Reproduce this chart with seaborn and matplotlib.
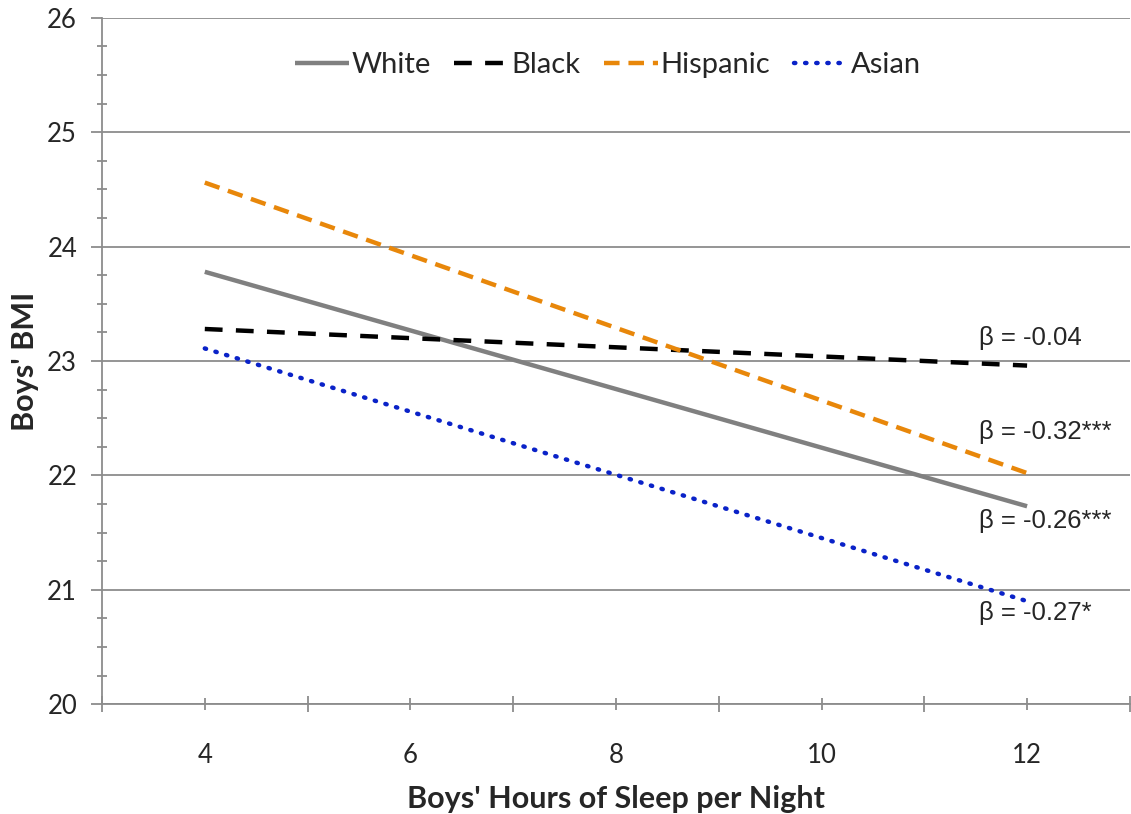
import matplotlib
matplotlib.use("Agg")
import matplotlib.pyplot as plt
import seaborn as sns
import pandas as pd
from matplotlib.ticker import MultipleLocator, FixedLocator

hours = [4, 12]
white = [23.78, 21.73]
black = [23.28, 22.96]
hispanic = [24.56, 22.02]
asian = [23.11, 20.90]
groups = ["White", "Black", "Hispanic", "Asian"]
betas = ["β = -0.04", "β = -0.32***", "β = -0.26***", "β = -0.27*"]
beta_pos_y = [23.2, 22.38, 21.6, 20.8]
beta_x = 11.53

colors = {"White": "#808080", "Black": "#000000", "Hispanic": "#E8870A", "Asian": "#0A22C8"}
dashes = {"White": (None, None), "Black": (4, 3), "Hispanic": (3.5, 2), "Asian": (0.3, 2.2)}

sns.set_style("white")
plt.rcParams["font.family"] = ["Lato", "DejaVu Sans"]

fig = plt.figure(figsize=(11.31, 8.14), dpi=100)
ax = fig.add_axes([0.0902, 0.135, 0.9088, 0.843])

series = {"White": white, "Black": black, "Hispanic": hispanic, "Asian": asian}
for g in groups:
    df = pd.DataFrame({"x": hours, "y": series[g]})
    ls = "-" if g == "White" else (0, dashes[g])
    cap = "round" if g == "Asian" else "butt"
    sns.lineplot(data=df, x="x", y="y", ax=ax, color=colors[g], linewidth=3.2,
                 linestyle=ls, label=g, dash_capstyle=cap, solid_capstyle="butt")

ax.set_xlim(3, 13)
ax.set_ylim(20, 26)
ax.xaxis.set_major_locator(FixedLocator([4, 6, 8, 10, 12]))
ax.xaxis.set_minor_locator(FixedLocator([3, 5, 7, 9, 11, 13]))
ax.yaxis.set_major_locator(MultipleLocator(1))
ax.yaxis.set_minor_locator(MultipleLocator(0.25))
ax.grid(axis="y", which="major", color="#8c8c8c", linewidth=1.3)
ax.set_axisbelow(True)
for s in ["top", "right"]:
    ax.spines[s].set_visible(False)
for s in ["left", "bottom"]:
    ax.spines[s].set_color("#8c8c8c")
    ax.spines[s].set_linewidth(1.3)
ax.tick_params(axis="x", which="major", direction="inout", length=8, width=1.3, color="#8c8c8c",
               labelsize=18.5, pad=24, bottom=True)
ax.tick_params(axis="x", which="minor", direction="inout", length=12, width=1.3, color="#8c8c8c", bottom=True)
ax.tick_params(axis="y", which="major", direction="out", length=8, width=1.3, color="#8c8c8c",
               labelsize=18.5, pad=10, left=True)
ax.tick_params(axis="y", which="minor", direction="inout", length=7, width=1.3, color="#8c8c8c", left=True)

ax.set_xlabel("Boys' Hours of Sleep per Night", fontsize=22, fontweight="bold", labelpad=12)
ax.set_ylabel("Boys' BMI", fontsize=22, fontweight="bold", labelpad=6)

for t, yy in zip(betas, beta_pos_y):
    ax.text(beta_x, yy, t, fontsize=18.5, va="center", ha="left", family=["Liberation Sans", "DejaVu Sans"])

leg = ax.legend(loc="upper center", bbox_to_anchor=(0.492, 0.988), ncol=4, frameon=False,
                fontsize=21, handlelength=1.85, handletextpad=0.1, columnspacing=0.8)

fig.savefig("out.png", dpi=100)
